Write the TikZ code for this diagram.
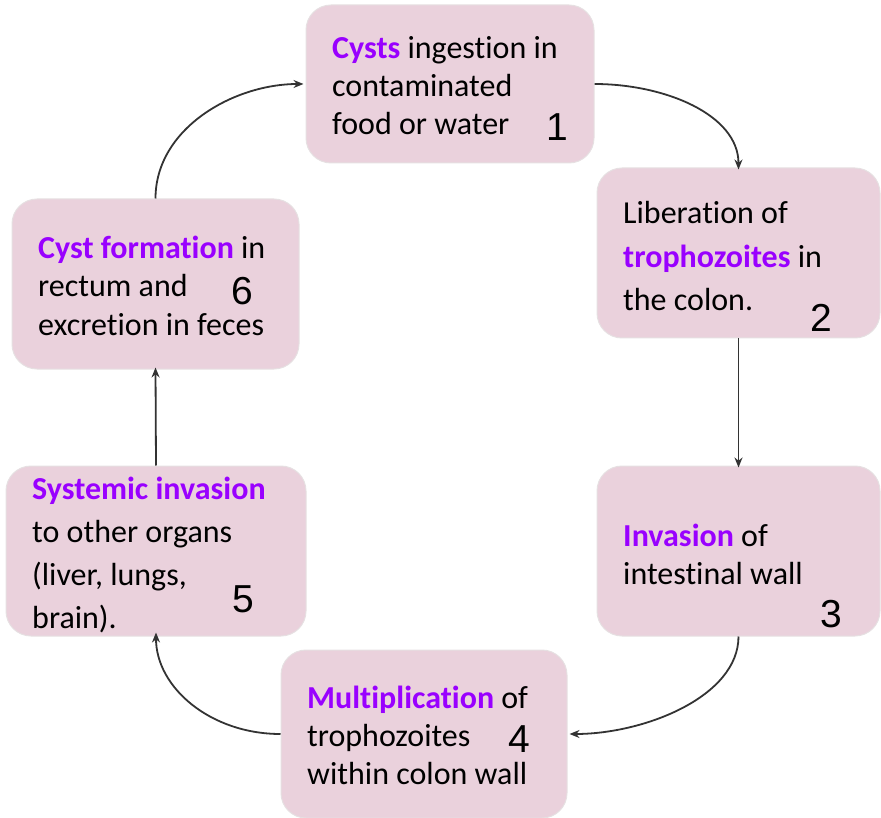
\documentclass[tikz,border=0pt]{standalone}
\usepackage{fontspec}
\setmainfont[Ligatures=NoCommon]{Carlito}
\newfontfamily\numfont{Liberation Sans}
\usetikzlibrary{arrows.meta}
\definecolor{boxfill}{HTML}{EAD1DC}
\definecolor{boxline}{HTML}{E6E0E2}
\definecolor{hlc}{HTML}{9900FF}
\definecolor{arr}{HTML}{333333}
\newcommand{\hl}[1]{\textcolor{hlc}{\bfseries #1}}
\tikzset{
  card/.style={draw=boxline, line width=1pt, fill=boxfill, rounded corners=25pt, inner sep=0pt},
  txt/.style={anchor=base west, inner sep=0pt, font=\fontsize{32}{36}\selectfont},
  num/.style={anchor=base west, inner sep=0pt, font=\numfont\fontsize{39}{43}\selectfont},
  conn/.style={draw=arr, line width=1.8pt, -{Stealth[length=10pt,width=8pt]}}
}
\begin{document}
\begin{tikzpicture}[x=1pt,y=-1pt]
\useasboundingbox (0,0) rectangle (881,818);
% boxes
\node[card, minimum width=288pt, minimum height=158pt] (b1) at (450,84) {};
\node[card, minimum width=283pt, minimum height=170pt] (b2) at (738.5,253) {};
\node[card, minimum width=283pt, minimum height=170pt] (b3) at (738.5,551) {};
\node[card, minimum width=286pt, minimum height=168pt] (b4) at (424,734) {};
\node[card, minimum width=300pt, minimum height=170pt] (b5) at (156,551) {};
\node[card, minimum width=287pt, minimum height=170pt] (b6) at (155.5,284) {};
% texts box 1
\node[txt] (t1a) at (332,59) {\hl{Cysts} ingestion in};
\node[txt] (t1b) at (332,97) {contaminated};
\node[txt] (t1c) at (332,135) {food or water};
\node[num] (n1) at (546,141) {1};
% box 2
\node[txt] (t2a) at (623,224) {Liberation of};
\node[txt] (t2b) at (623,268) {\hl{trophozoites} in};
\node[txt] (t2c) at (623,311) {the colon.};
\node[num] (n2) at (810,332) {2};
% box 3
\node[txt] (t3a) at (623,546) {\hl{Invasion} of};
\node[txt] (t3b) at (623,584) {intestinal wall};
\node[num] (n3) at (820,627) {3};
% box 4
\node[txt] (t4a) at (307,708) {\hl{Multiplication} of};
\node[txt] (t4b) at (307,746) {trophozoites};
\node[txt] (t4c) at (307,784) {within colon wall};
\node[num] (n4) at (508,752) {4};
% box 5
\node[txt] (t5a) at (32,499) {\hl{Systemic invasion}};
\node[txt] (t5b) at (32,542) {to other organs};
\node[txt] (t5c) at (32,585) {(liver, lungs,};
\node[txt] (t5d) at (32,628) {brain).};
\node[num] (n5) at (232,612) {5};
% box 6
\node[txt] (t6a) at (38,259) {\hl{Cyst formation} in};
\node[txt] (t6b) at (38,297) {rectum and};
\node[txt] (t6c) at (38,335) {excretion in feces};
\node[num] (n6) at (231,305) {6};
% connectors
\draw[conn] (b1.east) .. controls +(70,0) and +(0,-55) .. ([yshift=-2pt]b2.north);
\draw[conn] (b2.south) -- ([yshift=-2pt]b3.north);
\draw[conn] (b3.south) .. controls +(0,60) and +(75,0) .. ([xshift=2pt]b4.east);
\draw[conn] (b4.west) .. controls +(-70,0) and +(0,55) .. ([yshift=4pt]b5.south);
\draw[conn] (b5.north) -- ([yshift=2pt]b6.south);
\draw[conn] (b6.north) .. controls +(0,-70) and +(-70,0) .. ([xshift=-2pt]b1.west);
\end{tikzpicture}
\end{document}
